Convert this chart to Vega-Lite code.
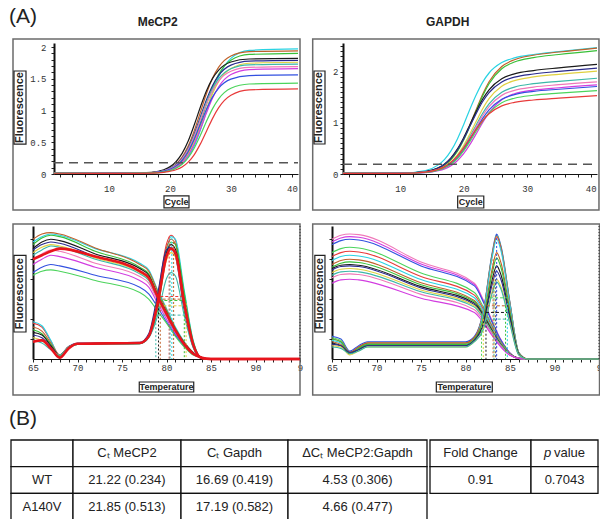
{
"$schema":"https://vega.github.io/schema/vega-lite/v6.json",
"padding":{"left":8,"top":2,"right":0,"bottom":0},
"background":"white",
"config":{"view":{"stroke":null},"axis":{"labelFont":"Liberation Mono","labelFontSize":9,"labelColor":"#333","grid":false,"tickColor":"#222","domainColor":"#111","labelOverlap":false,"labelFlush":false}},
"datasets":{
"ampM":[
{"id":"a","c":1,"f":0.015},{"id":"a","c":12,"f":0.01},{"id":"a","c":17,"f":0.017},{"id":"a","c":19,"f":0.034},{"id":"a","c":21,"f":0.093},{"id":"a","c":22,"f":0.159},{"id":"a","c":23,"f":0.271},{"id":"a","c":24,"f":0.446},{"id":"a","c":25,"f":0.693},{"id":"a","c":26,"f":0.99},{"id":"a","c":27,"f":1.287},{"id":"a","c":28,"f":1.534},{"id":"a","c":30,"f":1.821},{"id":"a","c":33,"f":1.946},{"id":"a","c":41,"f":1.97},
{"id":"b","c":1,"f":0.012},{"id":"b","c":12,"f":0.01},{"id":"b","c":17,"f":0.023},{"id":"b","c":19,"f":0.054},{"id":"b","c":21,"f":0.156},{"id":"b","c":22,"f":0.267},{"id":"b","c":23,"f":0.44},{"id":"b","c":24,"f":0.683},{"id":"b","c":25,"f":0.975},{"id":"b","c":26,"f":1.267},{"id":"b","c":27,"f":1.51},{"id":"b","c":28,"f":1.683},{"id":"b","c":30,"f":1.859},{"id":"b","c":33,"f":1.927},{"id":"b","c":41,"f":1.94},
{"id":"c","c":1,"f":0.014},{"id":"c","c":12,"f":0.01},{"id":"c","c":17,"f":0.019},{"id":"c","c":19,"f":0.042},{"id":"c","c":21,"f":0.117},{"id":"c","c":22,"f":0.201},{"id":"c","c":23,"f":0.338},{"id":"c","c":24,"f":0.542},{"id":"c","c":25,"f":0.809},{"id":"c","c":26,"f":1.102},{"id":"c","c":27,"f":1.368},{"id":"c","c":28,"f":1.572},{"id":"c","c":30,"f":1.793},{"id":"c","c":33,"f":1.883},{"id":"c","c":41,"f":1.9},
{"id":"d","c":1,"f":0.01},{"id":"d","c":12,"f":0.011},{"id":"d","c":17,"f":0.027},{"id":"d","c":19,"f":0.066},{"id":"d","c":21,"f":0.193},{"id":"d","c":22,"f":0.324},{"id":"d","c":23,"f":0.519},{"id":"d","c":24,"f":0.775},{"id":"d","c":25,"f":1.055},{"id":"d","c":26,"f":1.311},{"id":"d","c":27,"f":1.506},{"id":"d","c":28,"f":1.637},{"id":"d","c":30,"f":1.764},{"id":"d","c":33,"f":1.811},{"id":"d","c":41,"f":1.82},
{"id":"e","c":1,"f":0.013},{"id":"e","c":12,"f":0.01},{"id":"e","c":17,"f":0.022},{"id":"e","c":19,"f":0.051},{"id":"e","c":21,"f":0.145},{"id":"e","c":22,"f":0.247},{"id":"e","c":23,"f":0.406},{"id":"e","c":24,"f":0.631},{"id":"e","c":25,"f":0.9},{"id":"e","c":26,"f":1.169},{"id":"e","c":27,"f":1.394},{"id":"e","c":28,"f":1.553},{"id":"e","c":30,"f":1.715},{"id":"e","c":33,"f":1.778},{"id":"e","c":41,"f":1.79},
{"id":"f","c":1,"f":0.016},{"id":"f","c":12,"f":0.01},{"id":"f","c":17,"f":0.019},{"id":"f","c":19,"f":0.04},{"id":"f","c":21,"f":0.109},{"id":"f","c":22,"f":0.187},{"id":"f","c":23,"f":0.313},{"id":"f","c":24,"f":0.502},{"id":"f","c":25,"f":0.749},{"id":"f","c":26,"f":1.021},{"id":"f","c":27,"f":1.268},{"id":"f","c":28,"f":1.457},{"id":"f","c":30,"f":1.661},{"id":"f","c":33,"f":1.744},{"id":"f","c":41,"f":1.76},
{"id":"g","c":1,"f":0.012},{"id":"g","c":12,"f":0.01},{"id":"g","c":17,"f":0.022},{"id":"g","c":19,"f":0.05},{"id":"g","c":21,"f":0.141},{"id":"g","c":22,"f":0.239},{"id":"g","c":23,"f":0.393},{"id":"g","c":24,"f":0.61},{"id":"g","c":25,"f":0.87},{"id":"g","c":26,"f":1.13},{"id":"g","c":27,"f":1.347},{"id":"g","c":28,"f":1.501},{"id":"g","c":30,"f":1.658},{"id":"g","c":33,"f":1.718},{"id":"g","c":41,"f":1.73},
{"id":"h","c":1,"f":0.014},{"id":"h","c":12,"f":0.01},{"id":"h","c":17,"f":0.021},{"id":"h","c":19,"f":0.049},{"id":"h","c":21,"f":0.138},{"id":"h","c":22,"f":0.233},{"id":"h","c":23,"f":0.384},{"id":"h","c":24,"f":0.596},{"id":"h","c":25,"f":0.85},{"id":"h","c":26,"f":1.104},{"id":"h","c":27,"f":1.316},{"id":"h","c":28,"f":1.467},{"id":"h","c":30,"f":1.619},{"id":"h","c":33,"f":1.679},{"id":"h","c":41,"f":1.69},
{"id":"i","c":1,"f":0.011},{"id":"i","c":12,"f":0.01},{"id":"i","c":17,"f":0.018},{"id":"i","c":19,"f":0.038},{"id":"i","c":21,"f":0.104},{"id":"i","c":22,"f":0.177},{"id":"i","c":23,"f":0.296},{"id":"i","c":24,"f":0.474},{"id":"i","c":25,"f":0.707},{"id":"i","c":26,"f":0.963},{"id":"i","c":27,"f":1.196},{"id":"i","c":28,"f":1.374},{"id":"i","c":30,"f":1.566},{"id":"i","c":33,"f":1.645},{"id":"i","c":41,"f":1.66},
{"id":"j","c":1,"f":0.013},{"id":"j","c":12,"f":0.01},{"id":"j","c":17,"f":0.02},{"id":"j","c":19,"f":0.046},{"id":"j","c":21,"f":0.128},{"id":"j","c":22,"f":0.216},{"id":"j","c":23,"f":0.355},{"id":"j","c":24,"f":0.551},{"id":"j","c":25,"f":0.785},{"id":"j","c":26,"f":1.02},{"id":"j","c":27,"f":1.215},{"id":"j","c":28,"f":1.354},{"id":"j","c":30,"f":1.495},{"id":"j","c":33,"f":1.55},{"id":"j","c":41,"f":1.56},
{"id":"k","c":1,"f":0.015},{"id":"k","c":12,"f":0.01},{"id":"k","c":17,"f":0.017},{"id":"k","c":19,"f":0.034},{"id":"k","c":21,"f":0.091},{"id":"k","c":22,"f":0.153},{"id":"k","c":23,"f":0.256},{"id":"k","c":24,"f":0.41},{"id":"k","c":25,"f":0.61},{"id":"k","c":26,"f":0.83},{"id":"k","c":27,"f":1.03},{"id":"k","c":28,"f":1.184},{"id":"k","c":30,"f":1.35},{"id":"k","c":33,"f":1.417},{"id":"k","c":41,"f":1.43},
{"id":"l","c":1,"f":0.012},{"id":"l","c":12,"f":0.01},{"id":"l","c":17,"f":0.015},{"id":"l","c":19,"f":0.027},{"id":"l","c":21,"f":0.066},{"id":"l","c":22,"f":0.111},{"id":"l","c":23,"f":0.187},{"id":"l","c":24,"f":0.306},{"id":"l","c":25,"f":0.474},{"id":"l","c":26,"f":0.675},{"id":"l","c":27,"f":0.876},{"id":"l","c":28,"f":1.044},{"id":"l","c":30,"f":1.239},{"id":"l","c":33,"f":1.324},{"id":"l","c":41,"f":1.34}
],
"ampG":[
{"id":"A","c":1,"f":0.012},{"id":"A","c":10,"f":0.017},{"id":"A","c":14,"f":0.068},{"id":"A","c":16,"f":0.178},{"id":"A","c":17,"f":0.287},{"id":"A","c":18,"f":0.452},{"id":"A","c":19,"f":0.681},{"id":"A","c":20,"f":0.964},{"id":"A","c":21,"f":1.27},{"id":"A","c":22,"f":1.553},{"id":"A","c":23,"f":1.795},{"id":"A","c":24,"f":1.973},{"id":"A","c":26,"f":2.176},{"id":"A","c":28,"f":2.268},{"id":"A","c":31,"f":2.334},{"id":"A","c":35,"f":2.392},{"id":"A","c":41,"f":2.47},
{"id":"B","c":1,"f":0.012},{"id":"B","c":10,"f":0.014},{"id":"B","c":14,"f":0.044},{"id":"B","c":16,"f":0.109},{"id":"B","c":17,"f":0.177},{"id":"B","c":18,"f":0.286},{"id":"B","c":19,"f":0.45},{"id":"B","c":20,"f":0.678},{"id":"B","c":21,"f":0.96},{"id":"B","c":22,"f":1.265},{"id":"B","c":23,"f":1.56},{"id":"B","c":24,"f":1.801},{"id":"B","c":26,"f":2.099},{"id":"B","c":28,"f":2.233},{"id":"B","c":31,"f":2.32},{"id":"B","c":35,"f":2.383},{"id":"B","c":41,"f":2.46},
{"id":"C","c":1,"f":0.011},{"id":"C","c":10,"f":0.014},{"id":"C","c":14,"f":0.043},{"id":"C","c":16,"f":0.107},{"id":"C","c":17,"f":0.174},{"id":"C","c":18,"f":0.28},{"id":"C","c":19,"f":0.441},{"id":"C","c":20,"f":0.665},{"id":"C","c":21,"f":0.941},{"id":"C","c":22,"f":1.239},{"id":"C","c":23,"f":1.528},{"id":"C","c":24,"f":1.764},{"id":"C","c":26,"f":2.057},{"id":"C","c":28,"f":2.188},{"id":"C","c":31,"f":2.273},{"id":"C","c":35,"f":2.334},{"id":"C","c":41,"f":2.41},
{"id":"D","c":1,"f":0.013},{"id":"D","c":10,"f":0.014},{"id":"D","c":14,"f":0.049},{"id":"D","c":16,"f":0.122},{"id":"D","c":17,"f":0.198},{"id":"D","c":18,"f":0.315},{"id":"D","c":19,"f":0.485},{"id":"D","c":20,"f":0.709},{"id":"D","c":21,"f":0.969},{"id":"D","c":22,"f":1.228},{"id":"D","c":23,"f":1.464},{"id":"D","c":24,"f":1.645},{"id":"D","c":26,"f":1.86},{"id":"D","c":28,"f":1.956},{"id":"D","c":31,"f":2.02},{"id":"D","c":35,"f":2.073},{"id":"D","c":41,"f":2.14},
{"id":"E","c":1,"f":0.012},{"id":"E","c":10,"f":0.014},{"id":"E","c":14,"f":0.047},{"id":"E","c":16,"f":0.118},{"id":"E","c":17,"f":0.191},{"id":"E","c":18,"f":0.305},{"id":"E","c":19,"f":0.469},{"id":"E","c":20,"f":0.686},{"id":"E","c":21,"f":0.937},{"id":"E","c":22,"f":1.188},{"id":"E","c":23,"f":1.416},{"id":"E","c":24,"f":1.591},{"id":"E","c":26,"f":1.799},{"id":"E","c":28,"f":1.892},{"id":"E","c":31,"f":1.954},{"id":"E","c":35,"f":2.005},{"id":"E","c":41,"f":2.07},
{"id":"F","c":1,"f":0.011},{"id":"F","c":10,"f":0.013},{"id":"F","c":14,"f":0.038},{"id":"F","c":16,"f":0.091},{"id":"F","c":17,"f":0.147},{"id":"F","c":18,"f":0.235},{"id":"F","c":19,"f":0.369},{"id":"F","c":20,"f":0.555},{"id":"F","c":21,"f":0.786},{"id":"F","c":22,"f":1.034},{"id":"F","c":23,"f":1.275},{"id":"F","c":24,"f":1.472},{"id":"F","c":26,"f":1.716},{"id":"F","c":28,"f":1.825},{"id":"F","c":31,"f":1.896},{"id":"F","c":35,"f":1.947},{"id":"F","c":41,"f":2.01},
{"id":"G","c":1,"f":0.012},{"id":"G","c":10,"f":0.013},{"id":"G","c":14,"f":0.036},{"id":"G","c":16,"f":0.085},{"id":"G","c":17,"f":0.137},{"id":"G","c":18,"f":0.22},{"id":"G","c":19,"f":0.344},{"id":"G","c":20,"f":0.517},{"id":"G","c":21,"f":0.732},{"id":"G","c":22,"f":0.963},{"id":"G","c":23,"f":1.187},{"id":"G","c":24,"f":1.369},{"id":"G","c":26,"f":1.596},{"id":"G","c":28,"f":1.698},{"id":"G","c":31,"f":1.764},{"id":"G","c":35,"f":1.811},{"id":"G","c":41,"f":1.87},
{"id":"H","c":1,"f":0.012},{"id":"H","c":10,"f":0.013},{"id":"H","c":14,"f":0.035},{"id":"H","c":16,"f":0.083},{"id":"H","c":17,"f":0.132},{"id":"H","c":18,"f":0.212},{"id":"H","c":19,"f":0.332},{"id":"H","c":20,"f":0.498},{"id":"H","c":21,"f":0.704},{"id":"H","c":22,"f":0.927},{"id":"H","c":23,"f":1.142},{"id":"H","c":24,"f":1.318},{"id":"H","c":26,"f":1.536},{"id":"H","c":28,"f":1.634},{"id":"H","c":31,"f":1.698},{"id":"H","c":35,"f":1.744},{"id":"H","c":41,"f":1.8},
{"id":"I","c":1,"f":0.01},{"id":"I","c":10,"f":0.012},{"id":"I","c":14,"f":0.028},{"id":"I","c":16,"f":0.064},{"id":"I","c":17,"f":0.101},{"id":"I","c":18,"f":0.162},{"id":"I","c":19,"f":0.258},{"id":"I","c":20,"f":0.396},{"id":"I","c":21,"f":0.578},{"id":"I","c":22,"f":0.789},{"id":"I","c":23,"f":1.009},{"id":"I","c":24,"f":1.2},{"id":"I","c":26,"f":1.451},{"id":"I","c":28,"f":1.568},{"id":"I","c":31,"f":1.639},{"id":"I","c":35,"f":1.685},{"id":"I","c":41,"f":1.74},
{"id":"J","c":1,"f":0.012},{"id":"J","c":10,"f":0.013},{"id":"J","c":14,"f":0.033},{"id":"J","c":16,"f":0.079},{"id":"J","c":17,"f":0.126},{"id":"J","c":18,"f":0.202},{"id":"J","c":19,"f":0.315},{"id":"J","c":20,"f":0.474},{"id":"J","c":21,"f":0.669},{"id":"J","c":22,"f":0.881},{"id":"J","c":23,"f":1.085},{"id":"J","c":24,"f":1.252},{"id":"J","c":26,"f":1.46},{"id":"J","c":28,"f":1.552},{"id":"J","c":31,"f":1.613},{"id":"J","c":35,"f":1.656},{"id":"J","c":41,"f":1.71},
{"id":"K","c":1,"f":0.011},{"id":"K","c":10,"f":0.012},{"id":"K","c":14,"f":0.032},{"id":"K","c":16,"f":0.076},{"id":"K","c":17,"f":0.121},{"id":"K","c":18,"f":0.193},{"id":"K","c":19,"f":0.301},{"id":"K","c":20,"f":0.452},{"id":"K","c":21,"f":0.638},{"id":"K","c":22,"f":0.84},{"id":"K","c":23,"f":1.035},{"id":"K","c":24,"f":1.194},{"id":"K","c":26,"f":1.391},{"id":"K","c":28,"f":1.48},{"id":"K","c":31,"f":1.538},{"id":"K","c":35,"f":1.579},{"id":"K","c":41,"f":1.63},
{"id":"L","c":1,"f":0.012},{"id":"L","c":10,"f":0.013},{"id":"L","c":14,"f":0.038},{"id":"L","c":16,"f":0.09},{"id":"L","c":17,"f":0.144},{"id":"L","c":18,"f":0.228},{"id":"L","c":19,"f":0.349},{"id":"L","c":20,"f":0.509},{"id":"L","c":21,"f":0.694},{"id":"L","c":22,"f":0.879},{"id":"L","c":23,"f":1.047},{"id":"L","c":24,"f":1.177},{"id":"L","c":26,"f":1.33},{"id":"L","c":28,"f":1.399},{"id":"L","c":31,"f":1.445},{"id":"L","c":35,"f":1.482},{"id":"L","c":41,"f":1.53}
],
"meltM":[
{"id":"r1","t":65,"v":88},{"id":"r1","t":66,"v":92},{"id":"r1","t":67,"v":94},{"id":"r1","t":68,"v":93},{"id":"r1","t":72,"v":83},{"id":"r1","t":77,"v":72},{"id":"r1","t":78,"v":67},{"id":"r1","t":79,"v":52},{"id":"r1","t":80,"v":38},{"id":"r1","t":81,"v":24},{"id":"r1","t":82,"v":13},{"id":"r1","t":83,"v":5},{"id":"r1","t":84,"v":1},{"id":"r1","t":85,"v":0},{"id":"r1","t":95,"v":0},
{"id":"r2","t":65,"v":90},{"id":"r2","t":66,"v":94},{"id":"r2","t":67,"v":95},{"id":"r2","t":68,"v":94},{"id":"r2","t":72,"v":83.5},{"id":"r2","t":77,"v":71},{"id":"r2","t":78,"v":66},{"id":"r2","t":79,"v":51},{"id":"r2","t":80,"v":37},{"id":"r2","t":81,"v":23},{"id":"r2","t":82,"v":12.5},{"id":"r2","t":83,"v":5},{"id":"r2","t":84,"v":1},{"id":"r2","t":85,"v":0},{"id":"r2","t":95,"v":0},
{"id":"r3","t":65,"v":86},{"id":"r3","t":66,"v":91},{"id":"r3","t":67,"v":93},{"id":"r3","t":68,"v":92},{"id":"r3","t":72,"v":81},{"id":"r3","t":77,"v":69},{"id":"r3","t":78,"v":64},{"id":"r3","t":79,"v":49},{"id":"r3","t":80,"v":36},{"id":"r3","t":81,"v":23},{"id":"r3","t":82,"v":12},{"id":"r3","t":83,"v":4.5},{"id":"r3","t":84,"v":1},{"id":"r3","t":85,"v":0},{"id":"r3","t":95,"v":0},
{"id":"r4","t":65,"v":83},{"id":"r4","t":66,"v":88},{"id":"r4","t":67,"v":90},{"id":"r4","t":68,"v":89},{"id":"r4","t":72,"v":79},{"id":"r4","t":77,"v":68},{"id":"r4","t":78,"v":63},{"id":"r4","t":79,"v":48},{"id":"r4","t":80,"v":35},{"id":"r4","t":81,"v":22},{"id":"r4","t":82,"v":12},{"id":"r4","t":83,"v":4.5},{"id":"r4","t":84,"v":1},{"id":"r4","t":85,"v":0},{"id":"r4","t":95,"v":0},
{"id":"r5","t":65,"v":82},{"id":"r5","t":66,"v":86},{"id":"r5","t":67,"v":88},{"id":"r5","t":68,"v":87},{"id":"r5","t":72,"v":77},{"id":"r5","t":77,"v":66},{"id":"r5","t":78,"v":61},{"id":"r5","t":79,"v":47},{"id":"r5","t":80,"v":34},{"id":"r5","t":81,"v":22},{"id":"r5","t":82,"v":11.5},{"id":"r5","t":83,"v":4},{"id":"r5","t":84,"v":1},{"id":"r5","t":85,"v":0},{"id":"r5","t":95,"v":0},
{"id":"r6","t":65,"v":80},{"id":"r6","t":66,"v":84},{"id":"r6","t":67,"v":86},{"id":"r6","t":68,"v":85},{"id":"r6","t":72,"v":76},{"id":"r6","t":77,"v":65},{"id":"r6","t":78,"v":60},{"id":"r6","t":79,"v":46},{"id":"r6","t":80,"v":34},{"id":"r6","t":81,"v":21},{"id":"r6","t":82,"v":11},{"id":"r6","t":83,"v":4},{"id":"r6","t":84,"v":1},{"id":"r6","t":85,"v":0},{"id":"r6","t":95,"v":0},
{"id":"r7","t":65,"v":78},{"id":"r7","t":66,"v":82},{"id":"r7","t":67,"v":85},{"id":"r7","t":68,"v":84},{"id":"r7","t":72,"v":75},{"id":"r7","t":77,"v":64},{"id":"r7","t":78,"v":59},{"id":"r7","t":79,"v":45},{"id":"r7","t":80,"v":33},{"id":"r7","t":81,"v":21},{"id":"r7","t":82,"v":11},{"id":"r7","t":83,"v":4},{"id":"r7","t":84,"v":1},{"id":"r7","t":85,"v":0},{"id":"r7","t":95,"v":0},
{"id":"r8","t":65,"v":75},{"id":"r8","t":66,"v":79},{"id":"r8","t":67,"v":82},{"id":"r8","t":68,"v":81},{"id":"r8","t":72,"v":72},{"id":"r8","t":77,"v":62},{"id":"r8","t":78,"v":57},{"id":"r8","t":79,"v":44},{"id":"r8","t":80,"v":32},{"id":"r8","t":81,"v":20},{"id":"r8","t":82,"v":10.5},{"id":"r8","t":83,"v":4},{"id":"r8","t":84,"v":1},{"id":"r8","t":85,"v":0},{"id":"r8","t":95,"v":0},
{"id":"r9","t":65,"v":71},{"id":"r9","t":66,"v":75},{"id":"r9","t":67,"v":78},{"id":"r9","t":68,"v":77},{"id":"r9","t":72,"v":69},{"id":"r9","t":77,"v":59},{"id":"r9","t":78,"v":54},{"id":"r9","t":79,"v":42},{"id":"r9","t":80,"v":30},{"id":"r9","t":81,"v":19},{"id":"r9","t":82,"v":10},{"id":"r9","t":83,"v":3.5},{"id":"r9","t":84,"v":1},{"id":"r9","t":85,"v":0},{"id":"r9","t":95,"v":0},
{"id":"r10","t":65,"v":65},{"id":"r10","t":66,"v":69},{"id":"r10","t":67,"v":71},{"id":"r10","t":68,"v":70},{"id":"r10","t":72,"v":63},{"id":"r10","t":77,"v":54},{"id":"r10","t":78,"v":49},{"id":"r10","t":79,"v":39},{"id":"r10","t":80,"v":28},{"id":"r10","t":81,"v":18},{"id":"r10","t":82,"v":9.5},{"id":"r10","t":83,"v":3.5},{"id":"r10","t":84,"v":1},{"id":"r10","t":85,"v":0},{"id":"r10","t":95,"v":0},
{"id":"r11","t":65,"v":63},{"id":"r11","t":66,"v":66},{"id":"r11","t":67,"v":67},{"id":"r11","t":68,"v":66},{"id":"r11","t":72,"v":59},{"id":"r11","t":77,"v":50},{"id":"r11","t":78,"v":45},{"id":"r11","t":79,"v":36},{"id":"r11","t":80,"v":27},{"id":"r11","t":81,"v":17},{"id":"r11","t":82,"v":9},{"id":"r11","t":83,"v":3},{"id":"r11","t":84,"v":1},{"id":"r11","t":85,"v":0},{"id":"r11","t":95,"v":0},
{"id":"rb","t":65,"v":75},{"id":"rb","t":66,"v":78},{"id":"rb","t":67,"v":81},{"id":"rb","t":68,"v":83},{"id":"rb","t":72,"v":77},{"id":"rb","t":77,"v":66},{"id":"rb","t":78,"v":61},{"id":"rb","t":79,"v":47},{"id":"rb","t":80,"v":34},{"id":"rb","t":81,"v":21.5},{"id":"rb","t":82,"v":11},{"id":"rb","t":83,"v":4},{"id":"rb","t":84,"v":1},{"id":"rb","t":85,"v":0},{"id":"rb","t":95,"v":0},
{"id":"d1","t":65,"v":27},{"id":"d1","t":66,"v":24},{"id":"d1","t":67,"v":13.5},{"id":"d1","t":68,"v":3},{"id":"d1","t":69,"v":9},{"id":"d1","t":70,"v":11.5},{"id":"d1","t":77,"v":12},{"id":"d1","t":78,"v":17},{"id":"d1","t":79,"v":46.5},{"id":"d1","t":80,"v":86.5},{"id":"d1","t":80.5,"v":93},{"id":"d1","t":81,"v":89.3},{"id":"d1","t":82,"v":46.5},{"id":"d1","t":83,"v":12.1},{"id":"d1","t":84,"v":0.5},{"id":"d1","t":85,"v":0},{"id":"d1","t":95,"v":0},
{"id":"d2","t":65,"v":28},{"id":"d2","t":66,"v":25},{"id":"d2","t":67,"v":14},{"id":"d2","t":68,"v":2},{"id":"d2","t":69,"v":8},{"id":"d2","t":70,"v":11},{"id":"d2","t":77,"v":11.5},{"id":"d2","t":78,"v":16},{"id":"d2","t":79,"v":38.6},{"id":"d2","t":80,"v":81},{"id":"d2","t":80.5,"v":92},{"id":"d2","t":81,"v":90.2},{"id":"d2","t":82,"v":51.5},{"id":"d2","t":83,"v":14},{"id":"d2","t":84,"v":0.5},{"id":"d2","t":85,"v":0},{"id":"d2","t":95,"v":0},
{"id":"d3","t":65,"v":24},{"id":"d3","t":66,"v":21},{"id":"d3","t":67,"v":12},{"id":"d3","t":68,"v":3},{"id":"d3","t":69,"v":9},{"id":"d3","t":70,"v":11.5},{"id":"d3","t":77,"v":12},{"id":"d3","t":78,"v":17},{"id":"d3","t":79,"v":45},{"id":"d3","t":80,"v":83.7},{"id":"d3","t":80.5,"v":90},{"id":"d3","t":81,"v":86.4},{"id":"d3","t":82,"v":45},{"id":"d3","t":83,"v":11.7},{"id":"d3","t":84,"v":0.5},{"id":"d3","t":85,"v":0},{"id":"d3","t":95,"v":0},
{"id":"d4","t":65,"v":22},{"id":"d4","t":66,"v":19},{"id":"d4","t":67,"v":11},{"id":"d4","t":68,"v":2},{"id":"d4","t":69,"v":8.5},{"id":"d4","t":70,"v":11},{"id":"d4","t":77,"v":11.5},{"id":"d4","t":78,"v":16.5},{"id":"d4","t":79,"v":37},{"id":"d4","t":80,"v":77.4},{"id":"d4","t":80.5,"v":88},{"id":"d4","t":81,"v":86.2},{"id":"d4","t":82,"v":49.3},{"id":"d4","t":83,"v":13.2},{"id":"d4","t":84,"v":0.5},{"id":"d4","t":85,"v":0},{"id":"d4","t":95,"v":0},
{"id":"d5","t":65,"v":20},{"id":"d5","t":66,"v":18},{"id":"d5","t":67,"v":10},{"id":"d5","t":68,"v":3},{"id":"d5","t":69,"v":9},{"id":"d5","t":70,"v":11.5},{"id":"d5","t":77,"v":12},{"id":"d5","t":78,"v":17},{"id":"d5","t":79,"v":43},{"id":"d5","t":80,"v":80},{"id":"d5","t":80.5,"v":86},{"id":"d5","t":81,"v":82.6},{"id":"d5","t":82,"v":43},{"id":"d5","t":83,"v":11.2},{"id":"d5","t":84,"v":0.5},{"id":"d5","t":85,"v":0},{"id":"d5","t":95,"v":0},
{"id":"d6","t":65,"v":18},{"id":"d6","t":66,"v":16},{"id":"d6","t":67,"v":9},{"id":"d6","t":68,"v":3},{"id":"d6","t":69,"v":9.5},{"id":"d6","t":70,"v":12},{"id":"d6","t":77,"v":12.5},{"id":"d6","t":78,"v":19},{"id":"d6","t":79,"v":48.7},{"id":"d6","t":80,"v":82.3},{"id":"d6","t":80.5,"v":84},{"id":"d6","t":81,"v":77.3},{"id":"d6","t":82,"v":36.1},{"id":"d6","t":83,"v":9},{"id":"d6","t":84,"v":0.5},{"id":"d6","t":85,"v":0},{"id":"d6","t":95,"v":0},
{"id":"d7","t":65,"v":16},{"id":"d7","t":66,"v":14},{"id":"d7","t":67,"v":8},{"id":"d7","t":68,"v":3},{"id":"d7","t":69,"v":9},{"id":"d7","t":70,"v":11.5},{"id":"d7","t":77,"v":12},{"id":"d7","t":78,"v":17},{"id":"d7","t":79,"v":40},{"id":"d7","t":80,"v":74.4},{"id":"d7","t":80.5,"v":80},{"id":"d7","t":81,"v":76.8},{"id":"d7","t":82,"v":40},{"id":"d7","t":83,"v":10.4},{"id":"d7","t":84,"v":0.5},{"id":"d7","t":85,"v":0},{"id":"d7","t":95,"v":0},
{"id":"d8","t":65,"v":14},{"id":"d8","t":66,"v":12},{"id":"d8","t":67,"v":7},{"id":"d8","t":68,"v":3},{"id":"d8","t":69,"v":9},{"id":"d8","t":70,"v":11},{"id":"d8","t":77,"v":11.5},{"id":"d8","t":78,"v":16},{"id":"d8","t":79,"v":32.5},{"id":"d8","t":80,"v":60.5},{"id":"d8","t":80.5,"v":65},{"id":"d8","t":81,"v":62.4},{"id":"d8","t":82,"v":32.5},{"id":"d8","t":83,"v":8.5},{"id":"d8","t":84,"v":0.5},{"id":"d8","t":85,"v":0},{"id":"d8","t":95,"v":0},
{"id":"db","t":65,"v":13},{"id":"db","t":66,"v":14},{"id":"db","t":67,"v":8},{"id":"db","t":68,"v":1},{"id":"db","t":69,"v":8},{"id":"db","t":70,"v":11.5},{"id":"db","t":77,"v":12},{"id":"db","t":78,"v":17},{"id":"db","t":79,"v":41.5},{"id":"db","t":80,"v":77.2},{"id":"db","t":80.5,"v":83},{"id":"db","t":81,"v":79.7},{"id":"db","t":82,"v":41.5},{"id":"db","t":83,"v":10.8},{"id":"db","t":84,"v":0.5},{"id":"db","t":85,"v":0},{"id":"db","t":95,"v":0}
],
"meltG":[
{"id":"R1","t":65,"v":90},{"id":"R1","t":66,"v":93},{"id":"R1","t":67,"v":94},{"id":"R1","t":68,"v":93.5},{"id":"R1","t":75,"v":72.9},{"id":"R1","t":81,"v":57},{"id":"R1","t":82,"v":44.5},{"id":"R1","t":83,"v":28.5},{"id":"R1","t":84,"v":14.3},{"id":"R1","t":85,"v":4.6},{"id":"R1","t":86,"v":0.5},{"id":"R1","t":87,"v":0},{"id":"R1","t":95,"v":0},
{"id":"R2","t":65,"v":88},{"id":"R2","t":66,"v":91},{"id":"R2","t":67,"v":92},{"id":"R2","t":68,"v":91.5},{"id":"R2","t":75,"v":71.4},{"id":"R2","t":81,"v":56},{"id":"R2","t":82,"v":43.7},{"id":"R2","t":83,"v":28},{"id":"R2","t":84,"v":14},{"id":"R2","t":85,"v":4.5},{"id":"R2","t":86,"v":0.5},{"id":"R2","t":87,"v":0},{"id":"R2","t":95,"v":0},
{"id":"R3","t":65,"v":86},{"id":"R3","t":66,"v":89},{"id":"R3","t":67,"v":90},{"id":"R3","t":68,"v":89.5},{"id":"R3","t":75,"v":70},{"id":"R3","t":81,"v":55},{"id":"R3","t":82,"v":42.9},{"id":"R3","t":83,"v":27.5},{"id":"R3","t":84,"v":13.8},{"id":"R3","t":85,"v":4.4},{"id":"R3","t":86,"v":0.5},{"id":"R3","t":87,"v":0},{"id":"R3","t":95,"v":0},
{"id":"R4","t":65,"v":80},{"id":"R4","t":66,"v":83},{"id":"R4","t":67,"v":84},{"id":"R4","t":68,"v":83.5},{"id":"R4","t":75,"v":64.6},{"id":"R4","t":81,"v":50},{"id":"R4","t":82,"v":39},{"id":"R4","t":83,"v":25},{"id":"R4","t":84,"v":12.5},{"id":"R4","t":85,"v":4},{"id":"R4","t":86,"v":0.5},{"id":"R4","t":87,"v":0},{"id":"R4","t":95,"v":0},
{"id":"R5","t":65,"v":77},{"id":"R5","t":66,"v":80},{"id":"R5","t":67,"v":81},{"id":"R5","t":68,"v":80.5},{"id":"R5","t":75,"v":62.1},{"id":"R5","t":81,"v":48},{"id":"R5","t":82,"v":37.4},{"id":"R5","t":83,"v":24},{"id":"R5","t":84,"v":12},{"id":"R5","t":85,"v":3.8},{"id":"R5","t":86,"v":0.5},{"id":"R5","t":87,"v":0},{"id":"R5","t":95,"v":0},
{"id":"R6","t":65,"v":74},{"id":"R6","t":66,"v":77},{"id":"R6","t":67,"v":78},{"id":"R6","t":68,"v":77.5},{"id":"R6","t":75,"v":59.7},{"id":"R6","t":81,"v":46},{"id":"R6","t":82,"v":35.9},{"id":"R6","t":83,"v":23},{"id":"R6","t":84,"v":11.5},{"id":"R6","t":85,"v":3.7},{"id":"R6","t":86,"v":0.5},{"id":"R6","t":87,"v":0},{"id":"R6","t":95,"v":0},
{"id":"R7","t":65,"v":71},{"id":"R7","t":66,"v":74},{"id":"R7","t":67,"v":75},{"id":"R7","t":68,"v":74.5},{"id":"R7","t":75,"v":57.3},{"id":"R7","t":81,"v":44},{"id":"R7","t":82,"v":34.3},{"id":"R7","t":83,"v":22},{"id":"R7","t":84,"v":11},{"id":"R7","t":85,"v":3.5},{"id":"R7","t":86,"v":0.5},{"id":"R7","t":87,"v":0},{"id":"R7","t":95,"v":0},
{"id":"R8","t":65,"v":69},{"id":"R8","t":66,"v":72},{"id":"R8","t":67,"v":73},{"id":"R8","t":68,"v":72.5},{"id":"R8","t":75,"v":55.9},{"id":"R8","t":81,"v":43},{"id":"R8","t":82,"v":33.5},{"id":"R8","t":83,"v":21.5},{"id":"R8","t":84,"v":10.8},{"id":"R8","t":85,"v":3.4},{"id":"R8","t":86,"v":0.5},{"id":"R8","t":87,"v":0},{"id":"R8","t":95,"v":0},
{"id":"R9","t":65,"v":68},{"id":"R9","t":66,"v":70.5},{"id":"R9","t":67,"v":71},{"id":"R9","t":68,"v":70.5},{"id":"R9","t":75,"v":54.4},{"id":"R9","t":81,"v":42},{"id":"R9","t":82,"v":32.8},{"id":"R9","t":83,"v":21},{"id":"R9","t":84,"v":10.5},{"id":"R9","t":85,"v":3.4},{"id":"R9","t":86,"v":0.5},{"id":"R9","t":87,"v":0},{"id":"R9","t":95,"v":0},
{"id":"R10","t":65,"v":67},{"id":"R10","t":66,"v":69.5},{"id":"R10","t":67,"v":70},{"id":"R10","t":68,"v":69.5},{"id":"R10","t":75,"v":53.4},{"id":"R10","t":81,"v":41},{"id":"R10","t":82,"v":32},{"id":"R10","t":83,"v":20.5},{"id":"R10","t":84,"v":10.3},{"id":"R10","t":85,"v":3.3},{"id":"R10","t":86,"v":0.5},{"id":"R10","t":87,"v":0},{"id":"R10","t":95,"v":0},
{"id":"R11","t":65,"v":65},{"id":"R11","t":66,"v":67.5},{"id":"R11","t":67,"v":68},{"id":"R11","t":68,"v":67.5},{"id":"R11","t":75,"v":51.9},{"id":"R11","t":81,"v":40},{"id":"R11","t":82,"v":31.2},{"id":"R11","t":83,"v":20},{"id":"R11","t":84,"v":10},{"id":"R11","t":85,"v":3.2},{"id":"R11","t":86,"v":0.5},{"id":"R11","t":87,"v":0},{"id":"R11","t":95,"v":0},
{"id":"R12","t":65,"v":63},{"id":"R12","t":66,"v":65.5},{"id":"R12","t":67,"v":66},{"id":"R12","t":68,"v":65.5},{"id":"R12","t":75,"v":50.6},{"id":"R12","t":81,"v":39},{"id":"R12","t":82,"v":30.4},{"id":"R12","t":83,"v":19.5},{"id":"R12","t":84,"v":9.8},{"id":"R12","t":85,"v":3.1},{"id":"R12","t":86,"v":0.5},{"id":"R12","t":87,"v":0},{"id":"R12","t":95,"v":0},
{"id":"R13","t":65,"v":61},{"id":"R13","t":66,"v":63.5},{"id":"R13","t":67,"v":64},{"id":"R13","t":68,"v":63.5},{"id":"R13","t":75,"v":48.6},{"id":"R13","t":81,"v":37},{"id":"R13","t":82,"v":28.9},{"id":"R13","t":83,"v":18.5},{"id":"R13","t":84,"v":9.3},{"id":"R13","t":85,"v":3},{"id":"R13","t":86,"v":0.5},{"id":"R13","t":87,"v":0},{"id":"R13","t":95,"v":0},
{"id":"R14","t":65,"v":57},{"id":"R14","t":66,"v":59.5},{"id":"R14","t":67,"v":60},{"id":"R14","t":68,"v":59.5},{"id":"R14","t":75,"v":45.7},{"id":"R14","t":81,"v":35},{"id":"R14","t":82,"v":27.3},{"id":"R14","t":83,"v":17.5},{"id":"R14","t":84,"v":8.8},{"id":"R14","t":85,"v":2.8},{"id":"R14","t":86,"v":0.5},{"id":"R14","t":87,"v":0},{"id":"R14","t":95,"v":0},
{"id":"D1","t":65,"v":17},{"id":"D1","t":66,"v":15},{"id":"D1","t":67,"v":6},{"id":"D1","t":68,"v":10},{"id":"D1","t":69,"v":13},{"id":"D1","t":80,"v":13},{"id":"D1","t":81,"v":17},{"id":"D1","t":82,"v":35.7},{"id":"D1","t":83,"v":79.9},{"id":"D1","t":83.5,"v":94},{"id":"D1","t":84,"v":84.6},{"id":"D1","t":85,"v":42.3},{"id":"D1","t":86,"v":4.7},{"id":"D1","t":87,"v":0},{"id":"D1","t":95,"v":0},
{"id":"D2","t":65,"v":16},{"id":"D2","t":66,"v":14},{"id":"D2","t":67,"v":5},{"id":"D2","t":68,"v":9},{"id":"D2","t":69,"v":12},{"id":"D2","t":80,"v":12},{"id":"D2","t":81,"v":16},{"id":"D2","t":82,"v":35.3},{"id":"D2","t":83,"v":79},{"id":"D2","t":83.5,"v":93},{"id":"D2","t":84,"v":83.7},{"id":"D2","t":85,"v":41.9},{"id":"D2","t":86,"v":4.7},{"id":"D2","t":87,"v":0},{"id":"D2","t":95,"v":0},
{"id":"D3","t":65,"v":15},{"id":"D3","t":66,"v":13},{"id":"D3","t":67,"v":5},{"id":"D3","t":68,"v":9},{"id":"D3","t":69,"v":12},{"id":"D3","t":80,"v":12},{"id":"D3","t":81,"v":16},{"id":"D3","t":82,"v":35},{"id":"D3","t":83,"v":78.2},{"id":"D3","t":83.5,"v":92},{"id":"D3","t":84,"v":82.8},{"id":"D3","t":85,"v":41.4},{"id":"D3","t":86,"v":4.6},{"id":"D3","t":87,"v":0},{"id":"D3","t":95,"v":0},
{"id":"D4","t":65,"v":14},{"id":"D4","t":66,"v":12},{"id":"D4","t":67,"v":4},{"id":"D4","t":68,"v":8},{"id":"D4","t":69,"v":11},{"id":"D4","t":80,"v":11},{"id":"D4","t":81,"v":15},{"id":"D4","t":82,"v":34.2},{"id":"D4","t":83,"v":76.5},{"id":"D4","t":83.5,"v":90},{"id":"D4","t":84,"v":81},{"id":"D4","t":85,"v":40.5},{"id":"D4","t":86,"v":4.5},{"id":"D4","t":87,"v":0},{"id":"D4","t":95,"v":0},
{"id":"D5","t":65,"v":13},{"id":"D5","t":66,"v":11},{"id":"D5","t":67,"v":5},{"id":"D5","t":68,"v":9},{"id":"D5","t":69,"v":12},{"id":"D5","t":80,"v":12},{"id":"D5","t":81,"v":16},{"id":"D5","t":82,"v":30.4},{"id":"D5","t":83,"v":68},{"id":"D5","t":83.5,"v":80},{"id":"D5","t":84,"v":72},{"id":"D5","t":85,"v":36},{"id":"D5","t":86,"v":4},{"id":"D5","t":87,"v":0},{"id":"D5","t":95,"v":0},
{"id":"D6","t":65,"v":15},{"id":"D6","t":66,"v":13},{"id":"D6","t":67,"v":4},{"id":"D6","t":68,"v":8},{"id":"D6","t":69,"v":11},{"id":"D6","t":80,"v":11},{"id":"D6","t":81,"v":15},{"id":"D6","t":82,"v":28.9},{"id":"D6","t":83,"v":64.6},{"id":"D6","t":83.5,"v":76},{"id":"D6","t":84,"v":68.4},{"id":"D6","t":85,"v":34.2},{"id":"D6","t":86,"v":3.8},{"id":"D6","t":87,"v":0},{"id":"D6","t":95,"v":0},
{"id":"D7","t":65,"v":12},{"id":"D7","t":66,"v":10},{"id":"D7","t":67,"v":4},{"id":"D7","t":68,"v":7},{"id":"D7","t":69,"v":10},{"id":"D7","t":80,"v":10},{"id":"D7","t":81,"v":14},{"id":"D7","t":82,"v":26.6},{"id":"D7","t":83,"v":59.5},{"id":"D7","t":83.5,"v":70},{"id":"D7","t":84,"v":63},{"id":"D7","t":85,"v":31.5},{"id":"D7","t":86,"v":3.5},{"id":"D7","t":87,"v":0},{"id":"D7","t":95,"v":0},
{"id":"D8","t":65,"v":11},{"id":"D8","t":66,"v":10},{"id":"D8","t":67,"v":5},{"id":"D8","t":68,"v":7},{"id":"D8","t":69,"v":10},{"id":"D8","t":80,"v":10},{"id":"D8","t":81,"v":14},{"id":"D8","t":82,"v":25.1},{"id":"D8","t":83,"v":56.1},{"id":"D8","t":83.5,"v":66},{"id":"D8","t":84,"v":59.4},{"id":"D8","t":85,"v":29.7},{"id":"D8","t":86,"v":3.3},{"id":"D8","t":87,"v":0},{"id":"D8","t":95,"v":0},
{"id":"D9","t":65,"v":10},{"id":"D9","t":66,"v":9},{"id":"D9","t":67,"v":3},{"id":"D9","t":68,"v":6},{"id":"D9","t":69,"v":9},{"id":"D9","t":80,"v":9},{"id":"D9","t":81,"v":13},{"id":"D9","t":82,"v":22.8},{"id":"D9","t":83,"v":51},{"id":"D9","t":83.5,"v":60},{"id":"D9","t":84,"v":54},{"id":"D9","t":85,"v":27},{"id":"D9","t":86,"v":3},{"id":"D9","t":87,"v":0},{"id":"D9","t":95,"v":0},
{"id":"D10","t":65,"v":9},{"id":"D10","t":66,"v":8},{"id":"D10","t":67,"v":4},{"id":"D10","t":68,"v":6},{"id":"D10","t":69,"v":9},{"id":"D10","t":80,"v":9},{"id":"D10","t":81,"v":13},{"id":"D10","t":82,"v":22},{"id":"D10","t":83,"v":49.3},{"id":"D10","t":83.5,"v":58},{"id":"D10","t":84,"v":52.2},{"id":"D10","t":85,"v":26.1},{"id":"D10","t":86,"v":2.9},{"id":"D10","t":87,"v":0},{"id":"D10","t":95,"v":0}
],
"vM":[{"id":"d8","t":78.8,"top":42},{"id":"d5","t":79.1,"top":44},{"id":"d3","t":79.3,"top":46},{"id":"d1","t":80.3,"top":92},{"id":"d8","t":80.4,"top":65},{"id":"d2","t":80.6,"top":91},{"id":"d3","t":80.8,"top":88},{"id":"d4","t":82.0,"top":48},{"id":"d7","t":82.2,"top":42}],
"hM":[{"id":"d4","t1":79.2,"t2":82.2,"v":44},{"id":"d3","t1":79.0,"t2":82.0,"v":45},{"id":"d7","t1":79.1,"t2":82.1,"v":40},{"id":"d8","t1":79.0,"t2":82.0,"v":33},{"id":"d1","t1":79.3,"t2":81.9,"v":47}],
"vG":[{"id":"D2","t":81.8,"top":34},{"id":"D9","t":82.0,"top":30},{"id":"D7","t":82.3,"top":28},{"id":"D5","t":83.1,"top":75},{"id":"D10","t":83.2,"top":58},{"id":"D9","t":83.3,"top":60},{"id":"D8","t":83.4,"top":66},{"id":"D1","t":83.5,"top":94},{"id":"D6","t":84.5,"top":40},{"id":"D4","t":84.7,"top":42}],
"hG":[{"id":"D2","t1":82.2,"t2":84.8,"v":46},{"id":"D5","t1":82.4,"t2":84.6,"v":40},{"id":"D10","t1":82.5,"t2":84.5,"v":30},{"id":"D7","t1":82.3,"t2":84.7,"v":35}],
"table":[{"col":"c1","row":"h","text":""},{"col":"c1","row":"WT","text":"WT"},{"col":"c1","row":"A140V","text":"A140V"},
{"col":"c2","row":"h","text":"Cₜ MeCP2"},{"col":"c2","row":"WT","text":"21.22 (0.234)"},{"col":"c2","row":"A140V","text":"21.85 (0.513)"},
{"col":"c3","row":"h","text":"Cₜ Gapdh"},{"col":"c3","row":"WT","text":"16.69 (0.419)"},{"col":"c3","row":"A140V","text":"17.19 (0.582)"},
{"col":"c4","row":"h","text":"ΔCₜ MeCP2:Gapdh"},{"col":"c4","row":"WT","text":"4.53 (0.306)"},{"col":"c4","row":"A140V","text":"4.66 (0.477)"},
{"col":"c5","row":"h","text":"Fold Change"},{"col":"c5","row":"WT","text":"0.91"},
{"col":"c6","row":"h","text":"","pre":"p","post":"value"},{"col":"c6","row":"WT","text":"0.7043"}]
},
"spacing":8,
"vconcat":[
{"hconcat":[
{"width":45,"height":131,"data":{"values":[]},"mark":{"type":"rect"},"encoding":{}},
{"width":244,"height":131,"layer":[
{"data":{"values":[{}]},"mark":{"type":"rect","opacity":0},"encoding":{"x":{"datum":-6.377,"type":"quantitative","scale":{"domain":[1,41],"nice":false,"zero":false}},"x2":{"datum":0},"y":{"datum":2.693,"type":"quantitative","scale":{"domain":[0,2.063],"nice":false,"zero":false}},"y2":{"datum":2.5}}},
{"data":{"values":[{}]},"mark":{"type":"rect","fill":"transparent","stroke":"#6b6b6b","strokeWidth":1.5},"encoding":{"x":{"datum":-5.721,"type":"quantitative","scale":{"domain":[1,41],"nice":false,"zero":false}},"x2":{"datum":41.33},"y":{"datum":2.126,"type":"quantitative","scale":{"domain":[0,2.063],"nice":false,"zero":false}},"y2":{"datum":-0.567}}},
{"data":{"name":"ampM"},"mark":{"type":"line","interpolate":"monotone","strokeWidth":1.2},"encoding":{
"x":{"field":"c","type":"quantitative","scale":{"domain":[1,41],"nice":false,"zero":false},"axis":{"values":[2,4,6,8,10,12,14,16,18,20,22,24,26,28,30,32,34,36,38,40],"tickCount":200,"labelExpr":"datum.value % 10 === 0 ? format(datum.value, 'd') : ''","tickSize":3,"labelPadding":7,"title":null,"domainWidth":1.2}},
"y":{"field":"f","type":"quantitative","scale":{"domain":[0,2.063],"nice":false,"zero":false},"axis":{"values":[0,0.1,0.2,0.3,0.4,0.5,0.6,0.7,0.8,0.9,1,1.1,1.2,1.3,1.4,1.5,1.6,1.7,1.8,1.9,2],"tickCount":200,"labelExpr":"datum.value % 0.5 === 0 ? format(datum.value, '~g') : ''","tickSize":3,"labelPadding":5,"title":null,"domainWidth":2}},
"color":{"field":"id","type":"nominal","scale":{"domain":["a","b","c","d","e","f","g","h","i","j","k","l"],"range":["#29d3e3","#c0602a","#38c038","#1a1a1a","#2a2a8c","#e0d040","#3cb8a8","#f078b8","#d23ce0","#3250e0","#4cd45c","#e83a3a"]},"legend":null}}},
{"data":{"values":[{}]},"mark":{"type":"rule","strokeDash":[9,6],"strokeWidth":1.6,"color":"#555"},"encoding":{"x":{"datum":1,"type":"quantitative","scale":{"domain":[1,41],"nice":false,"zero":false}},"x2":{"datum":41},"y":{"datum":0.178,"type":"quantitative","scale":{"domain":[0,2.063],"nice":false,"zero":false}}}},
{"data":{"values":[{}]},"mark":{"type":"text","text":"(A)","font":"Liberation Sans","fontSize":21,"align":"left","baseline":"alphabetic","color":"#222"},"encoding":{"x":{"datum":-6.377,"type":"quantitative","scale":{"domain":[1,41],"nice":false,"zero":false}},"y":{"datum":2.373,"type":"quantitative","scale":{"domain":[0,2.063],"nice":false,"zero":false}}}},
{"data":{"values":[{}]},"mark":{"type":"text","text":"MeCP2","font":"Liberation Sans","fontWeight":"bold","fontSize":12,"align":"center","baseline":"alphabetic","color":"#222"},"encoding":{"x":{"datum":18.0,"type":"quantitative","scale":{"domain":[1,41],"nice":false,"zero":false}},"y":{"datum":2.331,"type":"quantitative","scale":{"domain":[0,2.063],"nice":false,"zero":false}}}},
{"data":{"values":[{}]},"mark":{"type":"rect","fill":"transparent","stroke":"#222","strokeWidth":1.2},"encoding":{"x":{"datum":-5.557,"type":"quantitative","scale":{"domain":[1,41],"nice":false,"zero":false}},"x2":{"datum":-3.59},"y":{"datum":1.622,"type":"quantitative","scale":{"domain":[0,2.063],"nice":false,"zero":false}},"y2":{"datum":0.472}}},
{"data":{"values":[{}]},"mark":{"type":"text","text":"Fluorescence","angle":270,"font":"Liberation Sans","fontWeight":"bold","fontSize":11,"align":"center","baseline":"middle","color":"#222"},"encoding":{"x":{"datum":-4.574,"type":"quantitative","scale":{"domain":[1,41],"nice":false,"zero":false}},"y":{"datum":1.047,"type":"quantitative","scale":{"domain":[0,2.063],"nice":false,"zero":false}}}},
{"data":{"values":[{}]},"mark":{"type":"rect","fill":"transparent","stroke":"#222","strokeWidth":1.2},"encoding":{"x":{"datum":19.03,"type":"quantitative","scale":{"domain":[1,41],"nice":false,"zero":false}},"x2":{"datum":23.13},"y":{"datum":-0.346,"type":"quantitative","scale":{"domain":[0,2.063],"nice":false,"zero":false}},"y2":{"datum":-0.535}}},
{"data":{"values":[{}]},"mark":{"type":"text","text":"Cycle","font":"Liberation Sans","fontWeight":"bold","fontSize":9,"align":"center","baseline":"middle","color":"#222"},"encoding":{"x":{"datum":21.08,"type":"quantitative","scale":{"domain":[1,41],"nice":false,"zero":false}},"y":{"datum":-0.441,"type":"quantitative","scale":{"domain":[0,2.063],"nice":false,"zero":false}}}}
]},
{"width":45,"height":131,"data":{"values":[]},"mark":{"type":"rect"},"encoding":{}},
{"width":254,"height":131,"layer":[
{"data":{"values":[{}]},"mark":{"type":"rect","fill":"transparent","stroke":"#6b6b6b","strokeWidth":1.5},"encoding":{"x":{"datum":-3.772,"type":"quantitative","scale":{"domain":[1,41],"nice":false,"zero":false}},"x2":{"datum":41.31},"y":{"datum":2.637,"type":"quantitative","scale":{"domain":[0,2.559],"nice":false,"zero":false}},"y2":{"datum":-0.703}}},
{"data":{"name":"ampG"},"mark":{"type":"line","interpolate":"monotone","strokeWidth":1.2},"encoding":{
"x":{"field":"c","type":"quantitative","scale":{"domain":[1,41],"nice":false,"zero":false},"axis":{"values":[2,4,6,8,10,12,14,16,18,20,22,24,26,28,30,32,34,36,38,40],"tickCount":200,"labelExpr":"datum.value % 10 === 0 ? format(datum.value, 'd') : ''","tickSize":3,"labelPadding":7,"title":null,"domainWidth":1.2}},
"y":{"field":"f","type":"quantitative","scale":{"domain":[0,2.559],"nice":false,"zero":false},"axis":{"values":[0,0.1,0.2,0.3,0.4,0.5,0.6,0.7,0.8,0.9,1,1.1,1.2,1.3,1.4,1.5,1.6,1.7,1.8,1.9,2,2.1,2.2,2.3,2.4,2.5],"tickCount":200,"labelExpr":"datum.value % 1 === 0 ? format(datum.value, 'd') : ''","tickSize":3,"labelPadding":2,"title":null,"domainWidth":2}},
"color":{"field":"id","type":"nominal","scale":{"domain":["A","B","C","D","E","F","G","H","I","J","K","L"],"range":["#a8d848","#9a4ae8","#4aa6f0","#9a5a3c","#e2dc3c","#48e0e0","#68b4e8","#3a44d0","#e034e0","#f04868","#30b048","#e03428"]},"legend":null}}},
{"data":{"values":[{}]},"mark":{"type":"rule","strokeDash":[9,6],"strokeWidth":1.6,"color":"#555"},"encoding":{"x":{"datum":1,"type":"quantitative","scale":{"domain":[1,41],"nice":false,"zero":false}},"x2":{"datum":41},"y":{"datum":0.189,"type":"quantitative","scale":{"domain":[0,2.559],"nice":false,"zero":false}}}},
{"data":{"values":[{}]},"mark":{"type":"text","text":"GAPDH","font":"Liberation Sans","fontWeight":"bold","fontSize":12,"align":"center","baseline":"alphabetic","color":"#222"},"encoding":{"x":{"datum":17.49,"type":"quantitative","scale":{"domain":[1,41],"nice":false,"zero":false}},"y":{"datum":2.891,"type":"quantitative","scale":{"domain":[0,2.559],"nice":false,"zero":false}}}},
{"data":{"values":[{}]},"mark":{"type":"rect","fill":"transparent","stroke":"#222","strokeWidth":1.2},"encoding":{"x":{"datum":-3.567,"type":"quantitative","scale":{"domain":[1,41],"nice":false,"zero":false}},"x2":{"datum":-1.835},"y":{"datum":2.012,"type":"quantitative","scale":{"domain":[0,2.559],"nice":false,"zero":false}},"y2":{"datum":0.586}}},
{"data":{"values":[{}]},"mark":{"type":"text","text":"Fluorescence","angle":270,"font":"Liberation Sans","fontWeight":"bold","fontSize":11,"align":"center","baseline":"middle","color":"#222"},"encoding":{"x":{"datum":-2.701,"type":"quantitative","scale":{"domain":[1,41],"nice":false,"zero":false}},"y":{"datum":1.299,"type":"quantitative","scale":{"domain":[0,2.559],"nice":false,"zero":false}}}},
{"data":{"values":[{}]},"mark":{"type":"rect","fill":"transparent","stroke":"#222","strokeWidth":1.2},"encoding":{"x":{"datum":19.06,"type":"quantitative","scale":{"domain":[1,41],"nice":false,"zero":false}},"x2":{"datum":23.17},"y":{"datum":-0.43,"type":"quantitative","scale":{"domain":[0,2.559],"nice":false,"zero":false}},"y2":{"datum":-0.664}}},
{"data":{"values":[{}]},"mark":{"type":"text","text":"Cycle","font":"Liberation Sans","fontWeight":"bold","fontSize":9,"align":"center","baseline":"middle","color":"#222"},"encoding":{"x":{"datum":21.11,"type":"quantitative","scale":{"domain":[1,41],"nice":false,"zero":false}},"y":{"datum":-0.547,"type":"quantitative","scale":{"domain":[0,2.559],"nice":false,"zero":false}}}}
]}
],"spacing":0,"bounds":"flush"},
{"hconcat":[
{"width":24,"height":133,"data":{"values":[]},"mark":{"type":"rect"},"encoding":{}},
{"width":267,"height":133,"layer":[
{"data":{"values":[{}]},"mark":{"type":"rect","opacity":0},"encoding":{"x":{"datum":62.303,"type":"quantitative","scale":{"domain":[65,95],"nice":false,"zero":false}},"x2":{"datum":63.5},"y":{"datum":104.7,"type":"quantitative","scale":{"domain":[0,100],"nice":false,"zero":false}},"y2":{"datum":-53.65}}},
{"data":{"values":[{}]},"mark":{"type":"rect","fill":"transparent","stroke":"#6b6b6b","strokeWidth":1.5},"encoding":{"x":{"datum":62.753,"type":"quantitative","scale":{"domain":[65,95],"nice":false,"zero":false}},"x2":{"datum":95.0},"y":{"datum":101.5,"type":"quantitative","scale":{"domain":[0,100],"nice":false,"zero":false}},"y2":{"datum":-27.07}}},
{"data":{"name":"meltM"},"transform":[{"filter":"datum.id != 'rb' && datum.id != 'db'"}],"mark":{"type":"line","interpolate":"monotone","strokeWidth":1.1},"encoding":{
"x":{"field":"t","type":"quantitative","scale":{"domain":[65,95],"nice":false,"zero":false},"axis":{"values":[65,66,67,68,69,70,71,72,73,74,75,76,77,78,79,80,81,82,83,84,85,86,87,88,89,90,91,92,93,94,95],"tickCount":200,"labelExpr":"datum.value % 5 === 0 ? (datum.value === 95 ? '9' : format(datum.value, 'd')) : ''","tickSize":3,"labelPadding":1,"title":null,"domainWidth":1.2}},
"y":{"field":"v","type":"quantitative","scale":{"domain":[0,100],"nice":false,"zero":false},"axis":{"values":[15,30,45,60,75,90],"tickCount":200,"labels":false,"tickSize":3,"title":null,"domainWidth":2}},
"color":{"field":"id","type":"nominal","scale":{"domain":["r1","r2","r3","r4","r5","r6","r7","r8","r9","r10","r11","d1","d2","d3","d4","d5","d6","d7","d8"],"range":["#30d0e0","#f0a030","#4060e0","#30c030","#40b0a0","#303090","#e0d040","#e050d0","#6a5ad0","#50d050","#e04848","#30c030","#d040e0","#4060e0","#30b0a0","#f0a030","#30d0e0","#303090","#e04040"]},"legend":null}}},
{"data":{"name":"vM"},"mark":{"type":"rule","strokeDash":[2,2],"strokeWidth":1},"encoding":{"x":{"field":"t","type":"quantitative","scale":{"domain":[65,95],"nice":false,"zero":false}},"y":{"field":"top","type":"quantitative","scale":{"domain":[0,100],"nice":false,"zero":false}},"y2":{"datum":0},"color":{"field":"id","type":"nominal","scale":{"domain":["r1","r2","r3","r4","r5","r6","r7","r8","r9","r10","r11","d1","d2","d3","d4","d5","d6","d7","d8"],"range":["#30d0e0","#f0a030","#4060e0","#30c030","#40b0a0","#303090","#e0d040","#e050d0","#6a5ad0","#50d050","#e04848","#30c030","#d040e0","#4060e0","#30b0a0","#f0a030","#30d0e0","#303090","#e04040"]},"legend":null}}},
{"data":{"name":"hM"},"mark":{"type":"rule","strokeDash":[3,2],"strokeWidth":1},"encoding":{"x":{"field":"t1","type":"quantitative","scale":{"domain":[65,95],"nice":false,"zero":false}},"x2":{"field":"t2"},"y":{"field":"v","type":"quantitative","scale":{"domain":[0,100],"nice":false,"zero":false}},"color":{"field":"id","type":"nominal","scale":{"domain":["r1","r2","r3","r4","r5","r6","r7","r8","r9","r10","r11","d1","d2","d3","d4","d5","d6","d7","d8"],"range":["#30d0e0","#f0a030","#4060e0","#30c030","#40b0a0","#303090","#e0d040","#e050d0","#6a5ad0","#50d050","#e04848","#30c030","#d040e0","#4060e0","#30b0a0","#f0a030","#30d0e0","#303090","#e04040"]},"legend":null}}},
{"data":{"name":"meltM"},"transform":[{"filter":"datum.id == 'rb' || datum.id == 'db'"}],"mark":{"type":"line","interpolate":"monotone","strokeWidth":2.6,"color":"#e8141c"},"encoding":{"x":{"field":"t","type":"quantitative","scale":{"domain":[65,95],"nice":false,"zero":false}},"y":{"field":"v","type":"quantitative","scale":{"domain":[0,100],"nice":false,"zero":false}},"detail":{"field":"id","type":"nominal"}}},
{"data":{"values":[{}]},"mark":{"type":"rule","strokeDash":[1,2],"color":"#333","strokeWidth":1},"encoding":{"x":{"datum":95,"type":"quantitative","scale":{"domain":[65,95],"nice":false,"zero":false}},"y":{"datum":0,"type":"quantitative","scale":{"domain":[0,100],"nice":false,"zero":false}},"y2":{"datum":100}}},
{"data":{"values":[{}]},"mark":{"type":"rect","fill":"transparent","stroke":"#222","strokeWidth":1.2},"encoding":{"x":{"datum":62.865,"type":"quantitative","scale":{"domain":[65,95],"nice":false,"zero":false}},"x2":{"datum":64.213},"y":{"datum":77.97,"type":"quantitative","scale":{"domain":[0,100],"nice":false,"zero":false}},"y2":{"datum":20.3}}},
{"data":{"values":[{}]},"mark":{"type":"text","text":"Fluorescence","angle":270,"font":"Liberation Sans","fontWeight":"bold","fontSize":11,"align":"center","baseline":"middle","color":"#222"},"encoding":{"x":{"datum":63.539,"type":"quantitative","scale":{"domain":[65,95],"nice":false,"zero":false}},"y":{"datum":49.1,"type":"quantitative","scale":{"domain":[0,100],"nice":false,"zero":false}}}},
{"data":{"values":[{}]},"mark":{"type":"rect","fill":"transparent","stroke":"#222","strokeWidth":1.2},"encoding":{"x":{"datum":76.94,"type":"quantitative","scale":{"domain":[65,95],"nice":false,"zero":false}},"x2":{"datum":83.06},"y":{"datum":-17.29,"type":"quantitative","scale":{"domain":[0,100],"nice":false,"zero":false}},"y2":{"datum":-24.81}}},
{"data":{"values":[{}]},"mark":{"type":"text","text":"Temperature","font":"Liberation Sans","fontWeight":"bold","fontSize":9,"align":"center","baseline":"middle","color":"#222"},"encoding":{"x":{"datum":80.0,"type":"quantitative","scale":{"domain":[65,95],"nice":false,"zero":false}},"y":{"datum":-21.05,"type":"quantitative","scale":{"domain":[0,100],"nice":false,"zero":false}}}},
{"data":{"values":[{}]},"mark":{"type":"text","text":"(B)","font":"Liberation Sans","fontSize":21,"align":"left","baseline":"alphabetic","color":"#222"},"encoding":{"x":{"datum":62.303,"type":"quantitative","scale":{"domain":[65,95],"nice":false,"zero":false}},"y":{"datum":-49.85,"type":"quantitative","scale":{"domain":[0,100],"nice":false,"zero":false}}}}
]},
{"width":32,"height":133,"data":{"values":[]},"mark":{"type":"rect"},"encoding":{}},
{"width":267,"height":133,"layer":[
{"data":{"values":[{}]},"mark":{"type":"rect","fill":"transparent","stroke":"#6b6b6b","strokeWidth":1.5},"encoding":{"x":{"datum":62.831,"type":"quantitative","scale":{"domain":[65,95],"nice":false,"zero":false}},"x2":{"datum":95.06},"y":{"datum":101.5,"type":"quantitative","scale":{"domain":[0,100],"nice":false,"zero":false}},"y2":{"datum":-27.07}}},
{"data":{"name":"meltG"},"mark":{"type":"line","interpolate":"monotone","strokeWidth":1.1},"encoding":{
"x":{"field":"t","type":"quantitative","scale":{"domain":[65,95],"nice":false,"zero":false},"axis":{"values":[65,66,67,68,69,70,71,72,73,74,75,76,77,78,79,80,81,82,83,84,85,86,87,88,89,90,91,92,93,94,95],"tickCount":200,"labelExpr":"datum.value % 5 === 0 ? (datum.value === 95 ? '9' : format(datum.value, 'd')) : ''","tickSize":3,"labelPadding":1,"title":null,"domainWidth":1.2}},
"y":{"field":"v","type":"quantitative","scale":{"domain":[0,100],"nice":false,"zero":false},"axis":{"values":[15,30,45,60,75,90],"tickCount":200,"labels":false,"tickSize":3,"title":null,"domainWidth":2}},
"color":{"field":"id","type":"nominal","scale":{"domain":["R1","R2","R3","R4","R5","R6","R7","R8","R9","R10","R11","R12","R13","R14","D1","D2","D3","D4","D5","D6","D7","D8","D9","D10"],"range":["#a8d840","#9040e0","#50a0f0","#a05a3a","#d8e040","#60e0e0","#68b4e8","#3040d0","#8040c0","#202080","#f060a0","#e030e0","#30b040","#e03020","#30b040","#3040d0","#202080","#8040c0","#60e0e0","#50a0f0","#f060a0","#a05a3a","#e03020","#e030e0"]},"legend":null}}},
{"data":{"name":"vG"},"mark":{"type":"rule","strokeDash":[2,2],"strokeWidth":1},"encoding":{"x":{"field":"t","type":"quantitative","scale":{"domain":[65,95],"nice":false,"zero":false}},"y":{"field":"top","type":"quantitative","scale":{"domain":[0,100],"nice":false,"zero":false}},"y2":{"datum":0},"color":{"field":"id","type":"nominal","scale":{"domain":["R1","R2","R3","R4","R5","R6","R7","R8","R9","R10","R11","R12","R13","R14","D1","D2","D3","D4","D5","D6","D7","D8","D9","D10"],"range":["#a8d840","#9040e0","#50a0f0","#a05a3a","#d8e040","#60e0e0","#68b4e8","#3040d0","#8040c0","#202080","#f060a0","#e030e0","#30b040","#e03020","#30b040","#3040d0","#202080","#8040c0","#60e0e0","#50a0f0","#f060a0","#a05a3a","#e03020","#e030e0"]},"legend":null}}},
{"data":{"name":"hG"},"mark":{"type":"rule","strokeDash":[3,2],"strokeWidth":1},"encoding":{"x":{"field":"t1","type":"quantitative","scale":{"domain":[65,95],"nice":false,"zero":false}},"x2":{"field":"t2"},"y":{"field":"v","type":"quantitative","scale":{"domain":[0,100],"nice":false,"zero":false}},"color":{"field":"id","type":"nominal","scale":{"domain":["R1","R2","R3","R4","R5","R6","R7","R8","R9","R10","R11","R12","R13","R14","D1","D2","D3","D4","D5","D6","D7","D8","D9","D10"],"range":["#a8d840","#9040e0","#50a0f0","#a05a3a","#d8e040","#60e0e0","#68b4e8","#3040d0","#8040c0","#202080","#f060a0","#e030e0","#30b040","#e03020","#30b040","#3040d0","#202080","#8040c0","#60e0e0","#50a0f0","#f060a0","#a05a3a","#e03020","#e030e0"]},"legend":null}}},
{"data":{"values":[{}]},"mark":{"type":"rule","strokeDash":[1,2],"color":"#333","strokeWidth":1},"encoding":{"x":{"datum":95,"type":"quantitative","scale":{"domain":[65,95],"nice":false,"zero":false}},"y":{"datum":0,"type":"quantitative","scale":{"domain":[0,100],"nice":false,"zero":false}},"y2":{"datum":100}}},
{"data":{"values":[{}]},"mark":{"type":"rect","fill":"transparent","stroke":"#222","strokeWidth":1.2},"encoding":{"x":{"datum":63.07,"type":"quantitative","scale":{"domain":[65,95],"nice":false,"zero":false}},"x2":{"datum":64.21},"y":{"datum":77.97,"type":"quantitative","scale":{"domain":[0,100],"nice":false,"zero":false}},"y2":{"datum":20.3}}},
{"data":{"values":[{}]},"mark":{"type":"text","text":"Fluorescence","angle":270,"font":"Liberation Sans","fontWeight":"bold","fontSize":11,"align":"center","baseline":"middle","color":"#222"},"encoding":{"x":{"datum":63.64,"type":"quantitative","scale":{"domain":[65,95],"nice":false,"zero":false}},"y":{"datum":49.1,"type":"quantitative","scale":{"domain":[0,100],"nice":false,"zero":false}}}},
{"data":{"values":[{}]},"mark":{"type":"rect","fill":"transparent","stroke":"#222","strokeWidth":1.2},"encoding":{"x":{"datum":76.72,"type":"quantitative","scale":{"domain":[65,95],"nice":false,"zero":false}},"x2":{"datum":83.01},"y":{"datum":-17.29,"type":"quantitative","scale":{"domain":[0,100],"nice":false,"zero":false}},"y2":{"datum":-24.81}}},
{"data":{"values":[{}]},"mark":{"type":"text","text":"Temperature","font":"Liberation Sans","fontWeight":"bold","fontSize":9,"align":"center","baseline":"middle","color":"#222"},"encoding":{"x":{"datum":79.87,"type":"quantitative","scale":{"domain":[65,95],"nice":false,"zero":false}},"y":{"datum":-21.05,"type":"quantitative","scale":{"domain":[0,100],"nice":false,"zero":false}}}}
]}
],"spacing":0,"bounds":"flush"},
{"hconcat":[
{"width":2,"height":80,"data":{"values":[]},"mark":{"type":"rect"},"encoding":{}},
{"width":62,"height":80,"data":{"name":"table"},"transform":[{"filter":"datum.col == 'c1'"}],"layer":[
{"mark":{"type":"rect","fill":"white","stroke":"#111","strokeWidth":1.3},"encoding":{"y":{"field":"row","type":"nominal","scale":{"domain":["h","WT","A140V"],"paddingInner":0,"paddingOuter":0},"axis":null}}},
{"mark":{"type":"text","font":"Liberation Sans","fontSize":13,"color":"#222"},"encoding":{"y":{"field":"row","type":"nominal","scale":{"domain":["h","WT","A140V"],"paddingInner":0,"paddingOuter":0},"axis":null},"text":{"field":"text"}}}]},
{"width":108,"height":80,"data":{"name":"table"},"transform":[{"filter":"datum.col == 'c2'"}],"layer":[
{"mark":{"type":"rect","fill":"white","stroke":"#111","strokeWidth":1.3},"encoding":{"y":{"field":"row","type":"nominal","scale":{"domain":["h","WT","A140V"],"paddingInner":0,"paddingOuter":0},"axis":null}}},
{"mark":{"type":"text","font":"Liberation Sans","fontSize":13,"color":"#222"},"encoding":{"y":{"field":"row","type":"nominal","scale":{"domain":["h","WT","A140V"],"paddingInner":0,"paddingOuter":0},"axis":null},"text":{"field":"text"}}}]},
{"width":107,"height":80,"data":{"name":"table"},"transform":[{"filter":"datum.col == 'c3'"}],"layer":[
{"mark":{"type":"rect","fill":"white","stroke":"#111","strokeWidth":1.3},"encoding":{"y":{"field":"row","type":"nominal","scale":{"domain":["h","WT","A140V"],"paddingInner":0,"paddingOuter":0},"axis":null}}},
{"mark":{"type":"text","font":"Liberation Sans","fontSize":13,"color":"#222"},"encoding":{"y":{"field":"row","type":"nominal","scale":{"domain":["h","WT","A140V"],"paddingInner":0,"paddingOuter":0},"axis":null},"text":{"field":"text"}}}]},
{"width":139,"height":80,"data":{"name":"table"},"transform":[{"filter":"datum.col == 'c4'"}],"layer":[
{"mark":{"type":"rect","fill":"white","stroke":"#111","strokeWidth":1.3},"encoding":{"y":{"field":"row","type":"nominal","scale":{"domain":["h","WT","A140V"],"paddingInner":0,"paddingOuter":0},"axis":null}}},
{"mark":{"type":"text","font":"Liberation Sans","fontSize":13,"color":"#222"},"encoding":{"y":{"field":"row","type":"nominal","scale":{"domain":["h","WT","A140V"],"paddingInner":0,"paddingOuter":0},"axis":null},"text":{"field":"text"}}}]},
{"width":3,"height":80,"data":{"values":[]},"mark":{"type":"rect"},"encoding":{}},
{"width":101,"height":80,"data":{"name":"table"},"transform":[{"filter":"datum.col == 'c5'"}],"layer":[
{"mark":{"type":"rect","fill":"white","stroke":"#111","strokeWidth":1.3},"encoding":{"y":{"field":"row","type":"nominal","scale":{"domain":["h","WT","A140V"],"paddingInner":0,"paddingOuter":0},"axis":null}}},
{"mark":{"type":"text","font":"Liberation Sans","fontSize":13,"color":"#222"},"encoding":{"y":{"field":"row","type":"nominal","scale":{"domain":["h","WT","A140V"],"paddingInner":0,"paddingOuter":0},"axis":null},"text":{"field":"text"}}}]},
{"width":67,"height":80,"data":{"name":"table"},"transform":[{"filter":"datum.col == 'c6'"}],"layer":[
{"mark":{"type":"rect","fill":"white","stroke":"#111","strokeWidth":1.3},"encoding":{"y":{"field":"row","type":"nominal","scale":{"domain":["h","WT","A140V"],"paddingInner":0,"paddingOuter":0},"axis":null}}},
{"mark":{"type":"text","font":"Liberation Sans","fontSize":13,"color":"#222"},"encoding":{"y":{"field":"row","type":"nominal","scale":{"domain":["h","WT","A140V"],"paddingInner":0,"paddingOuter":0},"axis":null},"text":{"field":"text"}}},
{"transform":[{"filter":"datum.row == 'h'"}],"mark":{"type":"text","font":"Liberation Sans","fontSize":13,"fontStyle":"italic","color":"#222","dx":-17},"encoding":{"y":{"field":"row","type":"nominal","scale":{"domain":["h","WT","A140V"],"paddingInner":0,"paddingOuter":0},"axis":null},"text":{"field":"pre"}}},
{"transform":[{"filter":"datum.row == 'h'"}],"mark":{"type":"text","font":"Liberation Sans","fontSize":13,"color":"#222","dx":5},"encoding":{"y":{"field":"row","type":"nominal","scale":{"domain":["h","WT","A140V"],"paddingInner":0,"paddingOuter":0},"axis":null},"text":{"field":"post"}}}]}
],"spacing":0,"bounds":"flush"}
]
}
